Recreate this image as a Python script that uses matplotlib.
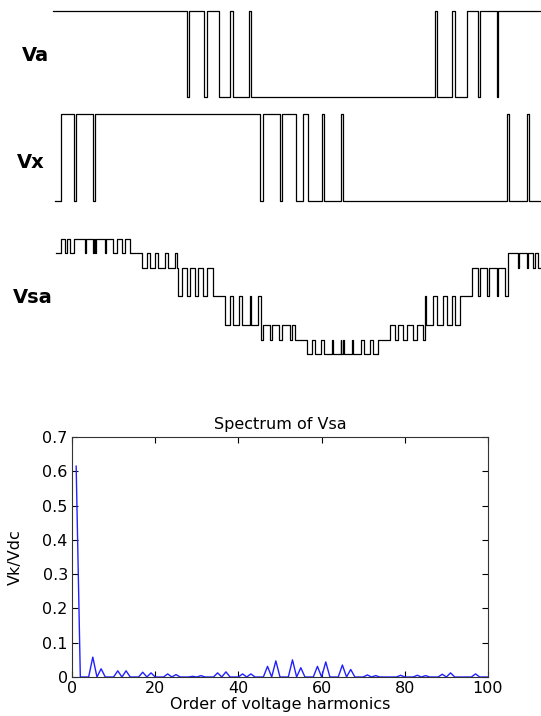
import numpy as np
import matplotlib.pyplot as plt

plt.rcParams['font.family'] = ['DejaVu Sans']

# switching instants (ms) and the level that starts at each instant
va_t = [0.00, 5.35, 5.44, 6.04, 6.15, 6.64, 7.09, 7.21, 7.85, 7.91,
        15.28, 15.35, 15.95, 16.08, 16.55, 16.99, 17.08, 17.75, 17.80, 19.52]
va_v = [1, 0, 1, 0, 1, 0, 1, 0, 1, 0, 1, 0, 1, 0, 1, 0, 1, 0, 1, 1]

vx_t = [0.08, 0.31, 0.84, 0.91, 1.61, 1.68, 8.28, 8.39, 9.08, 9.16, 9.71, 9.99,
        10.20, 10.75, 10.83, 11.52, 11.60, 18.17, 18.24, 18.95, 19.03, 19.52]
vx_v = [0, 1, 0, 1, 0, 1, 0, 1, 0, 1, 0, 1, 0, 1, 0, 1, 0, 1, 0, 1, 0, 0]

vsa_t = [0.11, 0.31, 0.48, 0.55, 0.68, 0.84, 1.28, 1.31, 1.61, 1.64, 1.68, 1.71,
         2.08, 2.11, 2.41, 2.55, 2.75, 2.88, 3.08,
         3.55, 3.75, 3.88, 4.08, 4.21, 4.48, 4.61, 4.88, 4.95,
         5.01, 5.15, 5.35, 5.48, 5.68, 5.81, 6.01, 6.15, 6.41,
         6.88, 7.08, 7.21, 7.44, 7.57, 7.88, 7.92, 8.21,
         8.32, 8.41, 8.68, 8.75, 9.05, 9.15, 9.48, 9.55, 9.68,
         10.17, 10.37, 10.48, 10.72, 10.85, 11.15, 11.19, 11.51, 11.53, 11.61, 11.64,
         11.95, 11.99, 12.32, 12.45, 12.68, 12.81, 12.99,
         13.48, 13.68, 13.81, 14.01, 14.15, 14.41, 14.55, 14.79,
         14.88, 14.92, 15.21, 15.35, 15.61, 15.75, 15.95, 16.08, 16.28,
         16.75, 17.01, 17.08, 17.37, 17.45, 17.75, 17.81, 18.08,
         18.21, 18.59, 18.64, 18.95, 19.01, 19.21, 19.28, 19.41, 19.52]
vsa_v = [3, 4, 3, 4, 3, 4, 3, 4, 3, 4, 3, 4,
         3, 4, 3, 4, 3, 4, 3,
         2, 3, 2, 3, 2, 3, 2, 3, 2,
         0, 2, 0, 2, 0, 2, 0, 2, 0,
         -2, 0, -2, 0, -2, 0, -2, 0,
         -3, -2, -3, -2, -3, -2, -3, -2, -3,
         -4, -3, -4, -3, -4, -3, -4, -3, -4, -3, -4,
         -3, -4, -3, -4, -3, -4, -3,
         -2, -3, -2, -3, -2, -3, -2, -3,
         0, -2, 0, -2, 0, -2, 0, -2, 0,
         2, 0, 2, 0, 2, 0, 2, 0,
         3, 2, 3, 2, 3, 2, 3, 2, 2]

# spectrum: odd harmonic orders with visible magnitude, others are zero
orders = np.arange(1, 101)
odd_h = [1, 5, 7, 11, 13, 17, 19, 23, 25, 29, 31, 35, 37, 41, 43, 47, 49, 53, 55,
         59, 61, 65, 67, 71, 73, 79, 83, 85, 89, 91, 97]
odd_mag = [0.615, 0.058, 0.024, 0.018, 0.018, 0.014, 0.012, 0.009, 0.007, 0.002,
           0.004, 0.012, 0.015, 0.009, 0.009, 0.031, 0.047, 0.050, 0.027,
           0.031, 0.044, 0.035, 0.022, 0.006, 0.004, 0.005, 0.005, 0.004,
           0.008, 0.012, 0.009]
vk = np.zeros(len(orders))
vk[np.array(odd_h) - 1] = odd_mag

W, H = 541, 716
fig = plt.figure(figsize=(W / 100, H / 100), dpi=100)


def px_axes(left, top, right, bottom):
    return fig.add_axes([left / W, 1 - bottom / H, (right - left) / W, (bottom - top) / H])


# waveforms
wave_axes = [px_axes(53, 2.4, 541, 105.6), px_axes(53, 105.6, 541, 210.2),
             px_axes(53, 231.5, 541, 361.2)]
waves = [(va_t, va_v, (-0.1, 1.1)), (vx_t, vx_v, (-0.1, 1.1)), (vsa_t, vsa_v, (-4.5, 4.5))]
for ax, (t, v, yl) in zip(wave_axes, waves):
    ax.plot(t, v, drawstyle='steps-post', color='black', lw=0.9, clip_on=False)
    ax.set_xlim(0, 19.52)
    ax.set_ylim(*yl)
    ax.axis('off')

fig.text(22 / W, 1 - 55.5 / H, 'Va', fontsize=14, fontweight='bold', va='center')
fig.text(17 / W, 1 - 163 / H, 'Vx', fontsize=14, fontweight='bold', va='center')
fig.text(13 / W, 1 - 298 / H, 'Vsa', fontsize=14, fontweight='bold', va='center')

# spectrum
ax = px_axes(72, 437, 488, 677)
ax.plot(orders, vk, color='#2020ff', lw=1.0)
ax.set_xlim(0, 100)
ax.set_ylim(0, 0.7)
ax.set_xticks([0, 20, 40, 60, 80, 100])
ax.set_yticks(np.arange(0, 0.71, 0.1))
ax.set_yticklabels(['0', '0.1', '0.2', '0.3', '0.4', '0.5', '0.6', '0.7'])
ax.tick_params(direction='in', top=True, right=True, length=4, width=0.8,
               labelsize=11.5, pad=3)
for s in ax.spines.values():
    s.set_linewidth(0.8)
    s.set_color('#333333')
ax.set_title('Spectrum of Vsa', fontsize=11.5, pad=6)
ax.set_xlabel('Order of voltage harmonics', fontsize=11.5)
ax.set_ylabel('Vk/Vdc', fontsize=11.5)
ax.xaxis.set_label_coords(0.5, -0.083)
ax.yaxis.set_label_coords(-0.118, 0.5)

fig.savefig('out.png', dpi=100)
